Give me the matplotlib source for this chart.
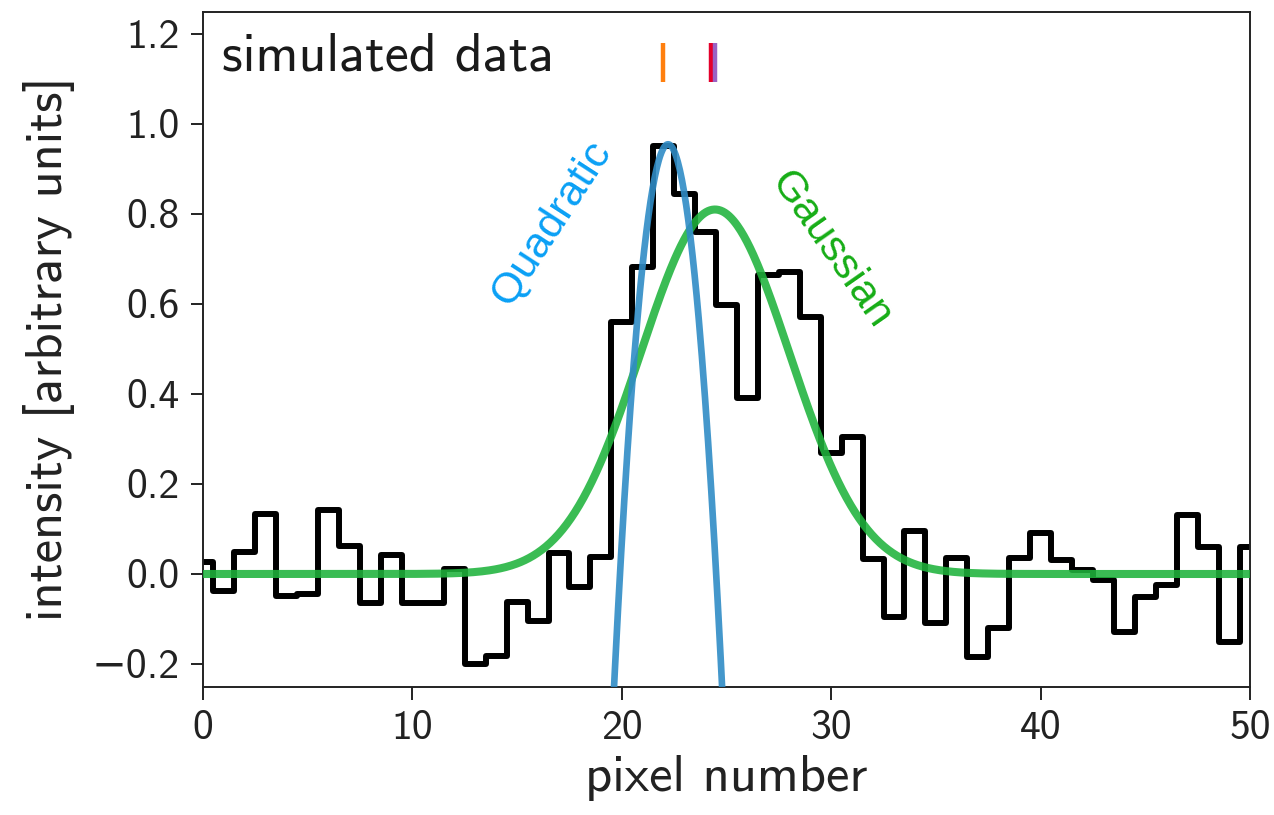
import numpy as np
import matplotlib
matplotlib.use("Agg")
import matplotlib.pyplot as plt

# Simulated line profile sampled on integer pixels
pixels = list(range(51))
intensity = [0.027, -0.038, 0.048, 0.133, -0.049, -0.045, 0.142, 0.062, -0.064,
             0.042, -0.064, -0.064, 0.012,
             -0.200, -0.182, -0.062, -0.104, 0.047, -0.029, 0.038,
             0.560, 0.683, 0.951, 0.845, 0.761, 0.598, 0.391, 0.664, 0.671, 0.571,
             0.269, 0.304, 0.033, -0.095, 0.096, -0.109, 0.035, -0.184, -0.120,
             0.035, 0.091, 0.031, 0.009, -0.013, -0.128, -0.051, -0.024, 0.131,
             0.060, -0.151, 0.060]

# Fitted model parameters
gauss_amp, gauss_mu, gauss_sigma = 0.81, 24.45, 3.55
quad_peak, quad_x0, quad_curv = 0.955, 22.21, 0.181

# Centre estimates shown as ticks above the profile
centre_positions = [21.97, 24.24, 24.45]
centre_colors = ["#ff7f0e", "#e4002b", "#9a62c4"]

plt.rcParams["font.family"] = ["cmss10", "DejaVu Sans"]
plt.rcParams["axes.unicode_minus"] = True

fig = plt.figure(figsize=(12.74, 8.15), dpi=100)
ax = fig.add_axes([203 / 1274, 1 - 686.5 / 815, 1047 / 1274, 675 / 815])

ax.step(pixels, intensity, where="mid", color="black", lw=4.3, zorder=2)

xs = np.linspace(0, 50, 1000)
gauss = gauss_amp * np.exp(-0.5 * ((xs - gauss_mu) / gauss_sigma) ** 2)
ax.plot(xs, gauss, color="#1fb33c", lw=5.8, alpha=0.88, zorder=3)

quad = quad_peak - quad_curv * (xs - quad_x0) ** 2
ax.plot(xs, quad, color="#2f8cc6", lw=4.8, alpha=0.9, zorder=4)

for xc, col in zip(centre_positions, centre_colors):
    ax.plot([xc, xc], [1.093, 1.18], color=col, lw=3.2, solid_capstyle="butt", zorder=5)

ax.text(16.6, 0.78, "Quadratic", color="#0aa0f5", fontsize=31, rotation=57,
        family=["Liberation Sans"], ha="center", va="center")
ax.text(30.0, 0.72, "Gaussian", color="#16ad16", fontsize=31, rotation=-55,
        family=["Liberation Sans"], ha="center", va="center")

ax.text(0.018, 0.913, "simulated data", transform=ax.transAxes,
        fontsize=39, ha="left", va="baseline", color="#1a1a1a")

ax.set_xlim(0, 50)
ax.set_ylim(-0.25, 1.25)
ax.set_xticks([0, 10, 20, 30, 40, 50])
ax.set_yticks([-0.2, 0.0, 0.2, 0.4, 0.6, 0.8, 1.0, 1.2])
ax.set_yticklabels(["\u22120.2", "0.0", "0.2", "0.4", "0.6", "0.8", "1.0", "1.2"])
ax.tick_params(direction="out", length=9, width=1.4, labelsize=30, pad=8,
               colors="#222222")
for s in ax.spines.values():
    s.set_linewidth(1.4)
    s.set_color("#222222")

ax.set_xlabel("pixel number", fontsize=38, labelpad=6, color="#222222")
ax.set_ylabel("intensity [arbitrary units]", fontsize=38, labelpad=12,
              color="#222222")

fig.savefig("out.png", dpi=100)
